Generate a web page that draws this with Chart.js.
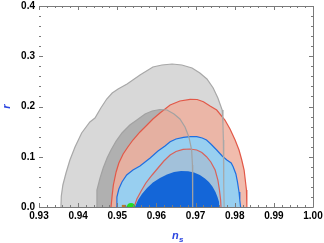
<!DOCTYPE html>
<html>
<head>
<meta charset="utf-8">
<script src="https://cdn.jsdelivr.net/npm/chart.js@4.4.0/dist/chart.umd.min.js"></script>
<style>
  html, body { margin: 0; padding: 0; background: #fff; }
  #wrap { width: 324px; height: 243px; }
</style>
</head>
<body>
<div id="wrap"><canvas id="chart"></canvas></div>
<script>
'use strict';

// tick labels
const xTicks = ['0.93', '0.94', '0.95', '0.96', '0.97', '0.98', '0.99', '1.00'];
const yTicks = ['0.0', '0.1', '0.2', '0.3', '0.4'];
const xMinor = 0.002;
const yMinor = 0.02;

// contours (ns, r)
const grayOuterNs = [0.9356, 0.9357, 0.9361, 0.9369, 0.9379, 0.9392, 0.9409, 0.9430, 0.9443, 0.9458, 0.9473, 0.9487, 0.9502, 0.9525, 0.9558, 0.9591, 0.9614, 0.9640, 0.9665, 0.9691, 0.9711, 0.9729, 0.9745, 0.9757, 0.9768, 0.9770, 0.9771, 0.9772, 0.9772, 0.9773];
const grayOuterR = [0, 0.0219, 0.0438, 0.0677, 0.0935, 0.1194, 0.1473, 0.1692, 0.1771, 0.1970, 0.2149, 0.2269, 0.2348, 0.2448, 0.2627, 0.2786, 0.2826, 0.2846, 0.2826, 0.2766, 0.2667, 0.2547, 0.2368, 0.2169, 0.1930, 0.1632, 0.1333, 0.0935, 0.0438, 0];

const grayInnerNs = [0.9446, 0.9448, 0.9456, 0.9464, 0.9474, 0.9484, 0.9497, 0.9512, 0.9532, 0.9550, 0.9571, 0.9589, 0.9609, 0.9627, 0.9645, 0.9660, 0.9673, 0.9683, 0.9690, 0.9692, 0.9693, 0.9692, 0.9693];
const grayInnerR = [0, 0.0338, 0.0577, 0.0776, 0.0975, 0.1134, 0.1313, 0.1473, 0.1632, 0.1731, 0.1851, 0.1910, 0.1940, 0.1930, 0.1851, 0.1751, 0.1592, 0.1393, 0.1134, 0.0836, 0.0537, 0.0239, 0];

const redOuterNs = [0.9484, 0.9487, 0.9490, 0.9497, 0.9504, 0.9515, 0.9527, 0.9540, 0.9558, 0.9576, 0.9591, 0.9609, 0.9635, 0.9660, 0.9686, 0.9704, 0.9720, 0.9737, 0.9754, 0.9775, 0.9788, 0.9801, 0.9811, 0.9818, 0.9824, 0.9827, 0.9830, 0.9831];
const redOuterR = [0, 0.0239, 0.0438, 0.0697, 0.0876, 0.1055, 0.1194, 0.1333, 0.1493, 0.1632, 0.1751, 0.1871, 0.2030, 0.2109, 0.2143, 0.2139, 0.2096, 0.2010, 0.1930, 0.1731, 0.1552, 0.1333, 0.1134, 0.0935, 0.0736, 0.0537, 0.0338, 0];

const redInnerNs = [0.9543, 0.9550, 0.9561, 0.9573, 0.9589, 0.9604, 0.9619, 0.9635, 0.9650, 0.9668, 0.9686, 0.9703, 0.9716, 0.9728, 0.9739, 0.9750, 0.9757, 0.9761, 0.9764, 0.9765];
const redInnerR = [0, 0.0159, 0.0318, 0.0478, 0.0637, 0.0776, 0.0915, 0.1035, 0.1104, 0.1148, 0.1154, 0.1134, 0.1085, 0.1001, 0.0896, 0.0736, 0.0537, 0.0338, 0.0139, 0];

const blueOuterNs = [0.9497, 0.9499, 0.9504, 0.9512, 0.9524, 0.9540, 0.9558, 0.9584, 0.9604, 0.9622, 0.9635, 0.9650, 0.9669, 0.9686, 0.9703, 0.9717, 0.9728, 0.9739, 0.9754, 0.9768, 0.9780, 0.9791, 0.9796, 0.9803, 0.9807, 0.9811, 0.9813, 0.9815];
const blueOuterR = [0, 0.0199, 0.0358, 0.0498, 0.0637, 0.0736, 0.0816, 0.0975, 0.1114, 0.1214, 0.1299, 0.1353, 0.1387, 0.1399, 0.1399, 0.1373, 0.1333, 0.1254, 0.1134, 0.1015, 0.0935, 0.0876, 0.0802, 0.0657, 0.0498, 0.0299, 0.0139, 0];

const blueInnerNs = [0.9545, 0.9553, 0.9563, 0.9576, 0.9591, 0.9609, 0.9627, 0.9645, 0.9663, 0.9681, 0.9696, 0.9711, 0.9724, 0.9734, 0.9743, 0.9751, 0.9756, 0.9760, 0.9761];
const blueInnerR = [0, 0.0139, 0.0259, 0.0378, 0.0488, 0.0577, 0.0647, 0.0697, 0.0716, 0.0712, 0.0687, 0.0637, 0.0567, 0.0498, 0.0408, 0.0299, 0.0199, 0.0100, 0];

// markers on the ns axis
const markerNs = [0.9517, 0.9527, 0.9535];
const markerR = [0, 0, 0];

function toPoints(ns, r) {
    return ns.map(function (v, i) { return { x: v, y: r[i] }; });
}

const blue = '#2b45e0';
const labelFont = { family: 'Liberation Sans', size: 10, weight: 'bold' };

function area(ns, r, color, order) {
    return { data: toPoints(ns, r), showLine: true, fill: 'origin', backgroundColor: color,
        borderWidth: 0, pointRadius: 0, order: order, clip: 0 };
}
function outline(ns, r, color, width, order) {
    return { data: toPoints(ns, r), showLine: true, fill: false, borderColor: color,
        borderWidth: width, pointRadius: 0, order: order, clip: 0 };
}

// frame and inward ticks, x title
const framePlugin = {
    id: 'frame',
    afterDraw(chart) {
        const ctx = chart.ctx;
        const a = chart.chartArea;
        const xs = chart.scales.x;
        const ys = chart.scales.y;
        ctx.save();
        ctx.strokeStyle = '#7a7a7a';
        ctx.lineWidth = 1;
        ctx.beginPath();
        ctx.moveTo(a.left, a.top + 0.5);
        ctx.lineTo(a.right + 0.5, a.top + 0.5);
        ctx.lineTo(a.right + 0.5, a.bottom + 0.5);
        ctx.lineTo(a.left, a.bottom + 0.5);
        const xMin = parseFloat(xTicks[0]);
        const xMax = parseFloat(xTicks[xTicks.length - 1]);
        for (let v = xMin; v <= xMax + 1e-9; v += xMinor) {
            const k = Math.round((v - xMin) / xMinor);
            const len = k % 5 === 0 ? 4 : 2;
            const px = Math.round(xs.getPixelForValue(v)) + 0.5;
            ctx.moveTo(px, a.bottom);
            ctx.lineTo(px, a.bottom - len);
            ctx.moveTo(px, a.top);
            ctx.lineTo(px, a.top + len);
        }
        const yMax = parseFloat(yTicks[yTicks.length - 1]);
        for (let v = 0; v <= yMax + 1e-9; v += yMinor) {
            const k = Math.round(v / yMinor);
            const len = k % 5 === 0 ? 4 : 2;
            const py = Math.round(ys.getPixelForValue(v)) + 0.5;
            ctx.moveTo(a.left, py);
            ctx.lineTo(a.left + len, py);
            ctx.moveTo(a.right, py);
            ctx.lineTo(a.right - len, py);
        }
        ctx.stroke();

        ctx.fillStyle = blue;
        ctx.textBaseline = 'alphabetic';
        ctx.font = 'italic bold 11px "Liberation Sans"';
        const tx = (a.left + a.right) / 2 - 4;
        ctx.fillText('n', tx, 239);
        ctx.font = 'italic bold 8px "Liberation Sans"';
        ctx.fillText('s', tx + 7, 242);
        ctx.restore();
    }
};

new Chart(document.getElementById('chart'), {
    type: 'scatter',
    data: {
        datasets: [
            area(grayOuterNs, grayOuterR, '#d8d8d8', 20),
            area(grayInnerNs, grayInnerR, '#b0b0b0', 19),
            area(redOuterNs, redOuterR, 'rgba(239,176,159,0.85)', 18),
            area(blueOuterNs, blueOuterR, '#98cff0', 17),
            area(redInnerNs, redInnerR, 'rgba(190,150,150,0.25)', 16),
            area(blueInnerNs, blueInnerR, '#1466d8', 15),
            outline(redInnerNs, redInnerR, '#d9625a', 1.2, 10),
            outline(blueOuterNs, blueOuterR, '#1f6fe0', 1.2, 9),
            outline(redOuterNs, redOuterR, '#e25848', 1.2, 8),
            outline(grayInnerNs, grayInnerR, '#a2a2a2', 1.2, 7),
            outline(grayOuterNs, grayOuterR, '#a8a8a8', 1.2, 6),
            {
                data: toPoints(markerNs, markerR),
                pointStyle: ['rect', 'rect', 'circle'],
                pointRadius: [3, 1.6, 4],
                backgroundColor: ['#b8782c', '#111111', '#22dd22'],
                borderWidth: 0,
                order: 1,
                clip: 0
            }
        ]
    },
    options: {
        responsive: true,
        maintainAspectRatio: false,
        animation: false,
        layout: { padding: { top: 6, right: 11, left: 0, bottom: 0 } },
        plugins: { legend: { display: false }, tooltip: { enabled: false } },
        scales: {
            x: {
                type: 'linear',
                min: parseFloat(xTicks[0]),
                max: parseFloat(xTicks[xTicks.length - 1]),
                grid: { display: false, drawTicks: false },
                border: { display: false },
                ticks: {
                    stepSize: 0.01,
                    padding: 3,
                    color: '#000',
                    font: labelFont,
                    maxRotation: 0,
                    autoSkip: false,
                    callback: function (v) {
                        const i = Math.round((v - parseFloat(xTicks[0])) / 0.01);
                        return xTicks[i];
                    }
                },
                afterFit: function (s) { s.height = 36; s.paddingLeft = 0; s.paddingRight = 0; }
            },
            y: {
                type: 'linear',
                min: 0,
                max: parseFloat(yTicks[yTicks.length - 1]),
                grid: { display: false, drawTicks: false },
                border: { display: false },
                title: { display: true, text: 'r', color: blue, padding: 0,
                    font: { family: 'Liberation Sans', size: 11, weight: 'bold', style: 'italic' } },
                ticks: {
                    stepSize: 0.1,
                    padding: 4,
                    color: '#000',
                    font: labelFont,
                    callback: function (v) { return yTicks[Math.round(v / 0.1)]; }
                },
                afterFit: function (s) { s.width = 39; s.paddingTop = 0; s.paddingBottom = 0; }
            }
        }
    },
    plugins: [framePlugin]
});
</script>
</body>
</html>
